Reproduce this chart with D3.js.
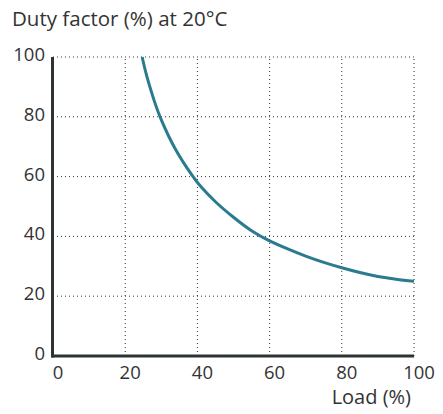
<!DOCTYPE html>
<html>
<head>
<meta charset="utf-8">
<script src="https://cdn.jsdelivr.net/npm/d3@7"></script>
<style>
  body { margin: 0; background: #fff; }
  svg text { font-family: "Open Sans", "Noto Sans", sans-serif; fill: #333; }
</style>
</head>
<body>
<svg id="chart" width="443" height="414"></svg>
<script>
(function() {
  // load (%) vs duty factor (%)
  const load = [24.7, 26, 28, 30, 34, 38.5, 41, 45, 50, 55, 60, 65, 70, 75, 80, 85, 90, 95, 100];
  const duty = [100, 93.5, 85.5, 79, 69, 60.5, 56.6, 51.6, 46.4, 41.9, 38.5, 35.8, 33.4, 31.3, 29.5, 27.9, 26.6, 25.7, 25];
  const xTicks = [0, 20, 40, 60, 80, 100];
  const yTicks = [0, 20, 40, 60, 80, 100];

  const svg = d3.select('#chart');
  const xScale = d3.scaleLinear().domain([0, 100]).range([53, 414]);
  const yScale = d3.scaleLinear().domain([0, 100]).range([356, 57]);

  // dotted grid
  const grid = svg.append('g').attr('class', 'grid');
  grid.selectAll('line.gx').data(xTicks.slice(1)).enter().append('line')
    .attr('x1', d => xScale(d)).attr('x2', d => xScale(d))
    .attr('y1', yScale(0)).attr('y2', yScale(100))
    .attr('stroke', '#333').attr('stroke-width', 1).attr('stroke-dasharray', '1,3');
  grid.selectAll('line.gy').data(yTicks.slice(1)).enter().append('line')
    .attr('y1', d => yScale(d)).attr('y2', d => yScale(d))
    .attr('x1', xScale(0)).attr('x2', xScale(100))
    .attr('stroke', '#333').attr('stroke-width', 1).attr('stroke-dasharray', '1,3');

  // curve
  const pts = load.map((l, i) => [l, duty[i]]);
  const line = d3.line().x(d => xScale(d[0])).y(d => yScale(d[1])).curve(d3.curveNatural);
  svg.append('path').datum(pts).attr('d', line)
    .attr('fill', 'none').attr('stroke', '#2a7b8f').attr('stroke-width', 3);

  // axes lines
  svg.append('line').attr('x1', xScale(0) - 1.5).attr('x2', xScale(100))
    .attr('y1', yScale(0)).attr('y2', yScale(0))
    .attr('stroke', '#2d3333').attr('stroke-width', 3);
  svg.append('line').attr('x1', xScale(0) - 0.5).attr('x2', xScale(0) - 0.5)
    .attr('y1', yScale(100)).attr('y2', yScale(0) + 1.5)
    .attr('stroke', '#2d3333').attr('stroke-width', 3);

  // tick labels
  svg.selectAll('text.ytick').data(yTicks).enter().append('text')
    .attr('class', 'ytick')
    .attr('x', 45).attr('y', d => yScale(d) + 4)
    .attr('text-anchor', 'end').attr('font-size', 18.5)
    .text(d => d);
  svg.selectAll('text.xtick').data(xTicks).enter().append('text')
    .attr('class', 'xtick')
    .attr('x', d => xScale(d) + 5).attr('y', 379)
    .attr('text-anchor', 'middle').attr('font-size', 18.5)
    .text(d => d);

  svg.append('text').attr('x', 411).attr('y', 404).attr('text-anchor', 'end')
    .attr('font-size', 20).text('Load (%)');
  svg.append('text').attr('x', 12).attr('y', 26)
    .attr('font-size', 20.5).text('Duty factor (%) at 20°C');
}());
</script>
</body>
</html>
